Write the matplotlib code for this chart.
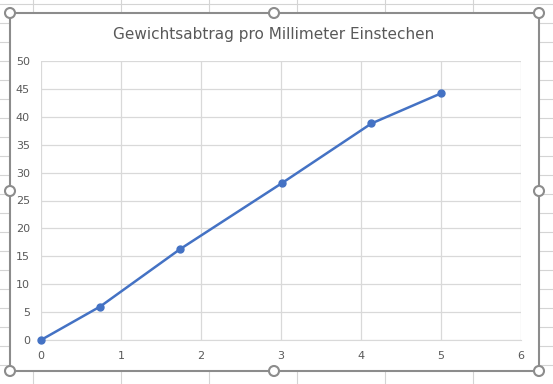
import matplotlib.pyplot as plt
from matplotlib.lines import Line2D
from matplotlib.patches import Rectangle, Circle

# data
mm = [0, 0.74, 1.74, 3.01, 4.13, 5.0]
abtrag = [0, 6.0, 16.3, 28.1, 38.8, 44.2]
x_ticks = [0, 1, 2, 3, 4, 5, 6]
y_ticks = [0, 5, 10, 15, 20, 25, 30, 35, 40, 45, 50]
title = "Gewichtsabtrag pro Millimeter Einstechen"

W, H = 553, 384
fig = plt.figure(figsize=(W / 100, H / 100), dpi=100)
fig.patch.set_facecolor("white")


def fx(px):
    return px / W


def fy(py):
    return 1 - py / H


# spreadsheet grid behind the chart
cell = "#d4d4d4"
for y in range(4, H, 19):
    fig.add_artist(Line2D([0, 1], [fy(y), fy(y)], color=cell, lw=0.8, zorder=0))
for x in range(33, W, 88):
    fig.add_artist(Line2D([fx(x), fx(x)], [0, 1], color=cell, lw=0.8, zorder=0))

# chart area with selection frame
x0, y0, x1, y1 = 10, 13, 539, 371
fig.add_artist(Rectangle((fx(x0), fy(y1)), fx(x1) - fx(x0), fy(y0) - fy(y1),
                         facecolor="white", edgecolor="#8c8c8c", lw=1.5, zorder=1))

ax = fig.add_axes([fx(41), fy(340), fx(521) - fx(41), fy(61) - fy(340)], zorder=2)
ax.set_facecolor("none")
ax.plot(mm, abtrag, color="#4472c4", lw=1.8, marker="o", ms=5, clip_on=False, zorder=3)
ax.set_xlim(0, 6)
ax.set_ylim(0, 50)
ax.set_xticks(x_ticks)
ax.set_yticks(y_ticks)
ax.grid(True, color="#d9d9d9", lw=0.9)
ax.set_axisbelow(True)
for s in ax.spines.values():
    s.set_visible(False)
ax.spines["bottom"].set_visible(True)
ax.spines["bottom"].set_color("#d9d9d9")
ax.tick_params(length=0, colors="#595959", labelsize=8, pad=8)
ax.tick_params(axis="y", pad=8)

fig.text(fx(274), fy(34), title, ha="center", va="center", fontsize=11, color="#595959")

# selection handles
for hx, hy in [(x0, y0), (274, y0), (x1, y0), (x0, 191), (x1, 191),
               (x0, y1), (274, y1), (x1, y1)]:
    fig.add_artist(Circle((hx, H - hy), 5, transform=None, facecolor="white",
                          edgecolor="#8c8c8c", lw=1.5, zorder=5))

fig.savefig("out.png", dpi=100)
